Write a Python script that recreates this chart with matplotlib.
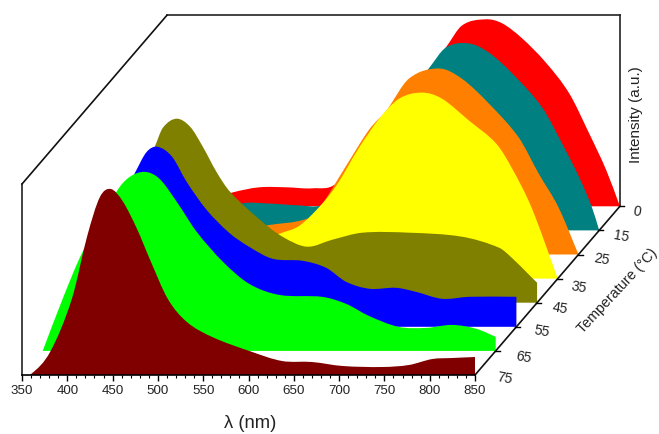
import matplotlib
matplotlib.use('Agg')
import matplotlib.pyplot as plt
from matplotlib.path import Path
from matplotlib.patches import PathPatch
from matplotlib.transforms import Affine2D

plt.rcParams['font.family'] = ['Liberation Sans', 'DejaVu Sans']

# temperatures, front to back
temps = ['75', '65', '55', '45', '35', '25', '15', '0']
colors = ['#800000', '#00ff00', '#0000ff', '#808000', '#ffff00', '#ff8000', '#008080', '#ff0000']

# wavelength / intensity
wl_75 = [350, 360, 381, 405, 422, 436, 448, 461, 477, 491, 511, 532, 560, 601, 637, 670, 704, 748, 777, 803, 825, 850]
i_75 = [0, 1, 23, 76, 139, 178, 186, 174, 146, 116, 76, 53, 38, 24, 14, 13, 9, 8, 10, 16, 17, 18]
wl_65 = [350, 372, 394, 432, 446, 463, 479, 498, 520, 549, 578, 611, 659, 685, 710, 743, 773, 802, 829, 850]
i_65 = [0, 52, 99, 160, 174, 179, 172, 149, 119, 89, 67, 56, 54, 47, 35, 24, 23, 26, 22, 14]
wl_55 = [350, 412, 429, 442, 454, 470, 486, 508, 533, 555, 581, 614, 640, 662, 688, 717, 739, 768, 798, 850]
i_55 = [0, 125, 154, 175, 180, 170, 145, 117, 94, 80, 68, 66, 59, 45, 38, 39, 35, 28, 30, 30]
wl_45 = [350, 400, 428, 437, 452, 467, 481, 496, 511, 544, 569, 596, 624, 657, 709, 767, 808, 822, 841, 850]
i_45 = [0, 100, 156, 175, 184, 176, 156, 131, 111, 83, 66, 56, 63, 70, 70, 66, 55, 45, 28, 20]
wl_35 = [350, 450, 500, 543, 565, 590, 607, 630, 653, 675, 700, 722, 752, 782, 799, 821, 850]
i_35 = [0, 20, 30, 45, 53, 75, 95, 130, 160, 180, 186, 180, 158, 135, 111, 71, 0]
wl_25 = [350, 450, 505, 551, 566, 591, 619, 638, 663, 696, 721, 751, 784, 806, 828, 850]
i_25 = [0, 20, 29, 36, 49, 85, 125, 144, 176, 186, 176, 151, 117, 81, 47, 0]
wl_15 = [350, 420, 456, 483, 519, 543, 569, 602, 635, 662, 681, 706, 728, 754, 787, 809, 828, 842, 850]
i_15 = [0, 15, 27, 27, 25, 25, 40, 90, 130, 162, 183, 187, 178, 157, 123, 87, 53, 23, 0]
wl_0 = [350, 390, 423, 452, 482, 511, 537, 563, 607, 640, 658, 676, 702, 720, 742, 768, 794, 816, 835, 850]
i_0 = [0, 5, 14, 19, 19, 18, 23, 60, 110, 138, 159, 181, 187, 183, 168, 144, 113, 73, 36, 0]

wls = [wl_75, wl_65, wl_55, wl_45, wl_35, wl_25, wl_15, wl_0]
ints = [i_75, i_65, i_55, i_45, i_35, i_25, i_15, i_0]

# pixels moved per temperature step
step_x = 20.7
step_y = 24.1


def smooth_path(x, y):
    """closed curve through the points, down to the baseline at the right end"""
    n = len(x)
    # slope at each point, from its two neighbours
    m = []
    for i in range(n):
        a = max(i - 1, 0)
        b = min(i + 1, n - 1)
        m.append((y[b] - y[a]) / (x[b] - x[a]))
    verts = [(x[0], y[0])]
    codes = [Path.MOVETO]
    for i in range(n - 1):
        h = (x[i + 1] - x[i]) / 3
        verts.append((x[i] + h, y[i] + m[i] * h))
        verts.append((x[i + 1] - h, y[i + 1] - m[i + 1] * h))
        verts.append((x[i + 1], y[i + 1]))
        codes += [Path.CURVE4] * 3
    verts.append((x[-1], 0))
    codes.append(Path.LINETO)
    verts.append((x[0], 0))
    codes.append(Path.LINETO)
    return Path(verts, codes)


fig = plt.figure(figsize=(6.59, 4.35), dpi=100)
# axes sits on the front plane
ax = fig.add_axes([22 / 659, (435 - 376) / 435, 453 / 659, 191 / 435])
ax.set_xlim(350, 850)
ax.set_ylim(0, 191)


def plane(k):
    return ax.transData + Affine2D().translate(k * step_x, k * step_y)


# draw from the back to the front
for k in range(len(temps) - 1, -1, -1):
    patch = PathPatch(smooth_path(wls[k], ints[k]), facecolor=colors[k], edgecolor='none',
                      transform=plane(k), clip_on=False)
    ax.add_patch(patch)

# frame
back = plane(7)
ax.plot([350, 350], [0, 191], color='#222222', lw=1.2, clip_on=False)
ax.plot([850, 850], [0, 191], color='#222222', lw=1.2, clip_on=False, transform=back)
ax.plot([350, 850], [191, 191], color='#222222', lw=1.2, clip_on=False, transform=back)

# diagonals go from front plane to back plane
for xv, yv in [(350, 191), (850, 0)]:
    x0, y0 = ax.transData.transform((xv, yv))
    ax.plot([x0, x0 + 7 * step_x], [y0, y0 + 7 * step_y], color='#111111', lw=1.2,
            clip_on=False, transform=None)

# temperature ticks and labels
label_dx = [30, 28, 25, 23, 21, 23, 22, 17]
label_dy = [-2, -6, -4, -5, -8, -4, -5, -4]
for k, t in enumerate(temps):
    x0, y0 = plane(k).transform((850, 0))
    if k > 0:
        ax.plot([x0 - 1, x0 + 4], [y0, y0], color='black', lw=1.0, clip_on=False, transform=None)
    ax.text(x0 + label_dx[k], y0 + label_dy[k], t, transform=None, fontsize=10, rotation=-10,
            ha='center', va='center', color='#222222')

for s in ax.spines.values():
    s.set_visible(False)
ax.spines['bottom'].set_visible(True)
ax.spines['bottom'].set_linewidth(1.2)
ax.patch.set_alpha(0)
ax.set_yticks([])
ax.set_xticks(range(350, 851, 50))
ax.set_xticks(range(350, 851, 10), minor=True)
ax.tick_params(axis='x', which='major', length=4, width=1, labelsize=9.6, pad=2.5, labelcolor='#222222')
ax.tick_params(axis='x', which='minor', length=2, width=0.8)

fig.text(250 / 659, 1 - 424 / 435, 'λ (nm)', fontsize=13.2, ha='center', va='center', color='#222222')
fig.text(636 / 659, 1 - 115 / 435, 'Intensity (a.u.)', fontsize=11, rotation=90, ha='center',
         va='center', color='#222222')
fig.text(617 / 659, 1 - 291 / 435, 'Temperature (°C)', fontsize=10.3, rotation=47, ha='center',
         va='center', color='#222222')

fig.savefig('out.png', dpi=100)
